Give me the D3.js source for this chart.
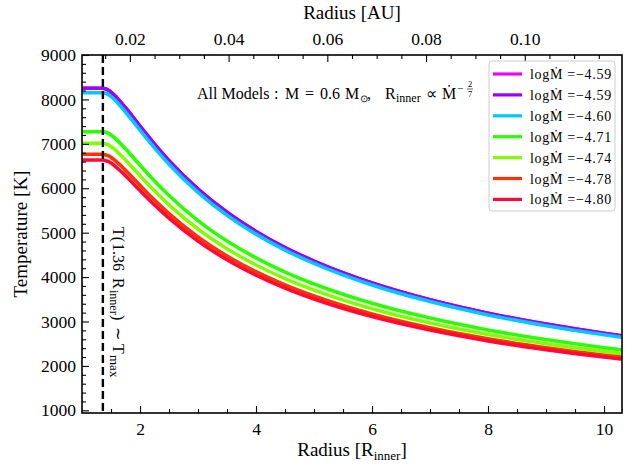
<!DOCTYPE html>
<html><head><meta charset="utf-8">
<script src="https://cdn.jsdelivr.net/npm/d3@7"></script>
<style>
body{margin:0;background:#fff}
svg{display:block}
text{font-family:"Liberation Serif","Times New Roman",serif;fill:#000}
</style>
</head><body>
<svg id="c" width="638" height="466"></svg>
<script>
// ---- data ----
const radius   = [1, 1.36, 1.4, 1.45, 1.5, 1.6, 1.75, 2, 2.25, 2.5, 3, 3.5, 4, 4.5, 5, 6, 7, 8, 9, 10, 10.31];
const tMagenta = [8250, 8250, 8240, 8211, 8166, 8040, 7812, 7397, 6994, 6622, 5981, 5458, 5028, 4665, 4361, 3868, 3490, 3187, 2941, 2734, 2677];
const tPurple  = [8250, 8250, 8240, 8211, 8166, 8040, 7812, 7397, 6994, 6622, 5981, 5458, 5028, 4665, 4361, 3868, 3490, 3187, 2941, 2734, 2677];
const tCyan    = [8150, 8150, 8140, 8112, 8067, 7943, 7717, 7307, 6909, 6542, 5909, 5392, 4967, 4609, 4308, 3821, 3448, 3148, 2906, 2701, 2645];
const tGreen   = [7273, 7273, 7264, 7239, 7199, 7088, 6887, 6521, 6165, 5838, 5273, 4812, 4432, 4113, 3845, 3410, 3077, 2810, 2593, 2410, 2360];
const tLime    = [7010, 7010, 7002, 6977, 6939, 6832, 6638, 6285, 5942, 5627, 5082, 4638, 4272, 3964, 3706, 3286, 2965, 2708, 2499, 2323, 2275];
const tOrange  = [6764, 6764, 6756, 6732, 6695, 6592, 6405, 6065, 5734, 5430, 4904, 4475, 4122, 3825, 3576, 3171, 2861, 2613, 2411, 2242, 2195];
const tRed     = [6635, 6635, 6627, 6604, 6567, 6467, 6283, 5949, 5625, 5326, 4810, 4390, 4043, 3752, 3507, 3111, 2807, 2563, 2365, 2199, 2153];
const logMdot  = ["−4.59", "−4.59", "−4.60", "−4.71", "−4.74", "−4.78", "−4.80"];
const colors   = ["#ee00ff", "#9900ff", "#00c8ff", "#2bff00", "#80ff00", "#ff3300", "#ff0a38"];
const yTicks   = [1000, 2000, 3000, 4000, 5000, 6000, 7000, 8000, 9000];
const xTicks   = [2, 4, 6, 8, 10];
const auTicks  = [0.02, 0.04, 0.06, 0.08, 0.10];
const auDomain = [0.0103, 0.1197];
const rMark = 1.36;
const xDomain = [1, 10.31];
const yDomain = [940, 9000];

const series = [tMagenta, tPurple, tCyan, tGreen, tLime, tOrange, tRed];

// ---- layout ----
const L = 82, R = 622, T = 55, B = 413;
const svg = d3.select("#c");
const x = d3.scaleLinear().domain(xDomain).range([L, R]);
const y = d3.scaleLinear().domain(yDomain).range([B, T]);
const xa = d3.scaleLinear().domain(auDomain).range([L, R]);

svg.append("defs").append("clipPath").attr("id", "pc")
  .append("rect").attr("x", L).attr("y", T).attr("width", R - L).attr("height", B - T);

// curves
const line = d3.line().x((d, i) => x(radius[i])).y(d => y(d)).curve(d3.curveMonotoneX);
const gL = svg.append("g").attr("clip-path", "url(#pc)");
series.forEach((s, k) => {
  gL.append("path").attr("d", line(s)).attr("fill", "none")
    .attr("stroke", colors[k]).attr("stroke-width", 3.6).attr("stroke-linejoin", "round");
});

// dashed marker
svg.append("line").attr("x1", x(rMark)).attr("x2", x(rMark)).attr("y1", T).attr("y2", B)
  .attr("stroke", "#000").attr("stroke-width", 2.4).attr("stroke-dasharray", "8,4");

// axes (ticks inward)
const fs = 17.5;
const axB = d3.axisBottom(x).tickValues(xTicks).tickSize(-7).tickPadding(10).tickFormat(d3.format("d"));
const axBm = d3.axisBottom(x).tickValues(d3.range(1.5, 10.31, 0.5).filter(v => v % 2 !== 0)).tickSize(-4).tickFormat("");
svg.append("g").attr("transform", `translate(0,${B})`).call(axB);
svg.append("g").attr("transform", `translate(0,${B})`).call(axBm);
const axLft = d3.axisLeft(y).tickValues(yTicks).tickSize(-7).tickPadding(6).tickFormat(d3.format("d"));
const axLm = d3.axisLeft(y).tickValues(d3.range(1000, 9001, 200).filter(v => v % 1000 !== 0)).tickSize(-4).tickFormat("");
svg.append("g").attr("transform", `translate(${L},0)`).call(axLft);
svg.append("g").attr("transform", `translate(${L},0)`).call(axLm);
const axT = d3.axisTop(xa).tickValues(auTicks).tickSize(-7).tickPadding(10).tickFormat(d3.format(".2f"));
const auMinor = d3.range(0.015, 0.1197, 0.005).filter(v => Math.abs(v / 0.02 - Math.round(v / 0.02)) > 1e-6);
const axTm = d3.axisTop(xa).tickValues(auMinor).tickSize(-4).tickFormat("");
svg.append("g").attr("transform", `translate(0,${T})`).call(axT);
svg.append("g").attr("transform", `translate(0,${T})`).call(axTm);

svg.selectAll(".domain").remove();
svg.selectAll(".tick line").attr("stroke", "#000").attr("stroke-width", 1.1);
svg.selectAll(".tick text").attr("font-size", fs).attr("fill", "#000");

// frame
svg.append("rect").attr("x", L).attr("y", T).attr("width", R - L).attr("height", B - T)
  .attr("fill", "none").attr("stroke", "#000").attr("stroke-width", 1.6);

function rich(sel, parts, size) {
  parts.forEach(p => {
    const t = sel.append("tspan").text(p.t);
    if (p.dy) t.attr("dy", p.dy);
    t.attr("font-size", p.s || size);
  });
}

// axis titles
svg.append("text").attr("x", (L + R) / 2).attr("y", 19).attr("text-anchor", "middle")
  .attr("font-size", 19).text("Radius [AU]");
const bt = svg.append("text").attr("x", (L + R) / 2).attr("y", 456).attr("text-anchor", "middle")
  .attr("font-size", 19);
rich(bt, [{t: "Radius [R"}, {t: "inner", s: 13, dy: 4}, {t: "]", dy: -4}], 19);
svg.append("text").attr("transform", `translate(27,${(T + B) / 2}) rotate(-90)`).attr("text-anchor", "middle")
  .attr("font-size", 19).text("Temperature [K]");

// annotation: pieces laid out along the baseline
const ay = 99;
const annPieces = [
  {t: "All Models", x: 197}, {t: ":", x: 274}, {t: "M", x: 285}, {t: "=", x: 305},
  {t: "0.6", x: 320}, {t: "M", x: 345}, {t: "⊙", x: 360, dy: 3, s: 10}, {t: ",", x: 367},
  {t: "R", x: 385}, {t: "inner", x: 396, dy: 3, s: 12}, {t: "∝", x: 426}, {t: "Ṁ", x: 442}
];
annPieces.forEach(p => {
  svg.append("text").attr("x", p.x).attr("y", ay + (p.dy || 0)).attr("font-size", p.s || 16).text(p.t);
});
const fx = 457;
svg.append("text").attr("x", fx).attr("y", 92).attr("font-size", 11).text("−");
svg.append("text").attr("x", fx + 13).attr("y", 87).attr("font-size", 8.5).attr("text-anchor", "middle").text("2");
svg.append("line").attr("x1", fx + 10).attr("x2", fx + 16).attr("y1", 89).attr("y2", 89).attr("stroke", "#000").attr("stroke-width", 0.6);
svg.append("text").attr("x", fx + 13).attr("y", 96.5).attr("font-size", 8.5).attr("text-anchor", "middle").text("7");

// vertical annotation: pieces along the rotated baseline
const vg = svg.append("g").attr("transform", "translate(113,0) rotate(90)");
const vPieces = [
  {t: "T(", at: 227}, {t: "1.36", at: 243}, {t: "R", at: 278}, {t: "inner", at: 290, dy: 3, s: 12},
  {t: ")", at: 315}, {t: "∼", at: 327}, {t: "T", at: 344}, {t: "max", at: 355, dy: 3, s: 13}
];
vPieces.forEach(p => {
  vg.append("text").attr("x", p.at).attr("y", p.dy || 0).attr("font-size", p.s || 16).text(p.t);
});

// legend
const lg = svg.append("g");
lg.append("rect").attr("x", 489).attr("y", 61).attr("width", 126).attr("height", 150).attr("rx", 3)
  .attr("fill", "#fff").attr("fill-opacity", 0.85).attr("stroke", "#cccccc").attr("stroke-width", 1);
logMdot.forEach((v, k) => {
  const yy = 74 + k * 20.9;
  lg.append("line").attr("x1", 493).attr("x2", 522).attr("y1", yy).attr("y2", yy)
    .attr("stroke", colors[k]).attr("stroke-width", 3.2);
  const t = lg.append("text").attr("x", 530).attr("y", yy + 5).attr("font-size", 14).style("letter-spacing", "0.7px");
  rich(t, [{t: "log"}, {t: "Ṁ"}, {t: " =" + v}], 14);
});
</script>
</body></html>
